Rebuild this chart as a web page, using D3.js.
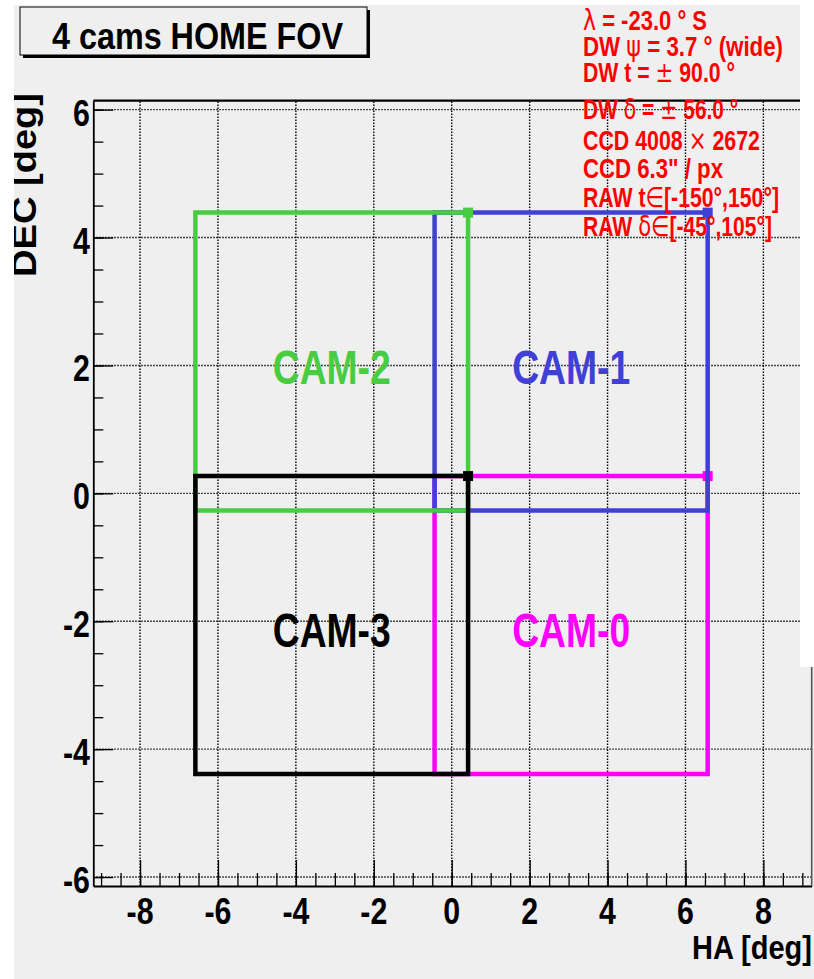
<!DOCTYPE html>
<html>
<head>
<meta charset="utf-8">
<script src="https://cdn.jsdelivr.net/npm/d3@7"></script>
<style>
  html, body { margin: 0; padding: 0; background: #ffffff; }
  svg { display: block; }
</style>
</head>
<body>
<script>
// ---------------- data ----------------
const cameras   = ["CAM-0", "CAM-1", "CAM-2", "CAM-3"];
const camColors = ["#ff00ff", "#4040d8", "#48cc40", "#000000"];
const haMin     = [-0.44, -0.44, -6.58, -6.58];
const haMax     = [ 6.57,  6.57,  0.42,  0.42];
const decMin    = [-4.39, -0.27, -0.27, -4.39];
const decMax    = [ 0.27,  4.39,  4.39,  0.27];

const xMajorTicks = [-8, -6, -4, -2, 0, 2, 4, 6, 8];
const yMajorTicks = [-6, -4, -2, 0, 2, 4, 6];
const xMinorTicks = d3.range(-18, 19).map(d => d / 2);
const yMinorTicks = d3.range(-12, 13).map(d => d / 2);

const titleText = "4 cams HOME FOV";
const xTitle = "HA [deg]";
const yTitle = "DEC [deg]";
const infoLines = [
  "λ = -23.0 ° S",
  "DW ψ = 3.7 ° (wide)",
  "DW t = ± 90.0 °",
  "DW δ = ± 56.0 °",
  "CCD 4008 × 2672",
  "CCD 6.3\" / px",
  "RAW t∈[-150°,150°]",
  "RAW δ∈[-45°,105°]"
];
const infoWidths    = [124, 200, 152, 155, 177, 140, 196, 189];
const infoBaselines = [30, 56, 82, 119, 150, 178, 207, 236];

// ---------------- layout ----------------
const W = 814, H = 979;
const FONT = "'Liberation Sans', Arial, Helvetica, sans-serif";
const BG = "#efefef";

const svg = d3.select("body").append("svg")
  .attr("width", W).attr("height", H)
  .attr("viewBox", `0 0 ${W} ${H}`);

svg.append("rect").attr("width", W).attr("height", H).attr("fill", BG);

const x = d3.scaleLinear().domain([-9.2, 9.24]).range([93.3, 811.7]);
const y = d3.scaleLinear().domain([-6.14, 6.14]).range([886, 100.7]);
const [x0, x1] = x.range();
const [y0, y1] = y.range(); // y0 bottom, y1 top

// grid (dotted)
const grid = svg.append("g").attr("stroke", "#000").attr("stroke-width", 1.4)
  .attr("stroke-dasharray", "1.4,1.6");
grid.selectAll(".gx").data(xMajorTicks).join("line")
  .attr("x1", d => x(d)).attr("x2", d => x(d))
  .attr("y1", y0).attr("y2", y1);
grid.selectAll(".gy").data(yMajorTicks).join("line")
  .attr("y1", d => y(d)).attr("y2", d => y(d))
  .attr("x1", x0).attr("x2", x1);

// camera rectangles
const camG = svg.append("g");
cameras.forEach((c, i) => {
  const pts = [
    [haMax[i], decMax[i]],
    [haMin[i], decMax[i]],
    [haMin[i], decMin[i]],
    [haMax[i], decMin[i]],
    [haMax[i], decMax[i]]
  ];
  camG.append("path")
    .attr("d", d3.line().x(p => x(p[0])).y(p => y(p[1]))(pts))
    .attr("fill", "none")
    .attr("stroke", camColors[i])
    .attr("stroke-width", 4.5)
    .attr("stroke-linejoin", "miter")
    .attr("stroke-linecap", "square");
  camG.append("rect")
    .attr("x", x(haMax[i]) - 5).attr("y", y(decMax[i]) - 5)
    .attr("width", 10).attr("height", 10)
    .attr("fill", camColors[i]);
});

// camera labels
cameras.forEach((c, i) => {
  svg.append("text")
    .attr("x", x((haMin[i] + haMax[i]) / 2))
    .attr("y", y((decMin[i] + decMax[i]) / 2))
    .attr("dy", "0.45em")
    .attr("text-anchor", "middle")
    .attr("font-family", FONT).attr("font-weight", "bold")
    .attr("font-size", 49)
    .attr("textLength", 118).attr("lengthAdjust", "spacingAndGlyphs")
    .attr("fill", camColors[i])
    .text(c);
});

// axes (ticks inside the frame, ROOT style)
const axX = svg.append("g").attr("transform", `translate(0,${y0})`);
axX.call(d3.axisBottom(x).tickValues(xMinorTicks).tickSize(-13).tickSizeOuter(0).tickFormat(""));
axX.append("g").call(d3.axisBottom(x).tickValues(xMajorTicks).tickSize(-26).tickSizeOuter(0).tickFormat(""))
  .select(".domain").remove();
const axY = svg.append("g").attr("transform", `translate(${x0},0)`);
axY.call(d3.axisLeft(y).tickValues(yMinorTicks).tickSize(-10).tickSizeOuter(0).tickFormat(""));
axY.append("g").call(d3.axisLeft(y).tickValues(yMajorTicks).tickSize(-20).tickSizeOuter(0).tickFormat(""))
  .select(".domain").remove();
svg.selectAll(".tick line").attr("stroke", "#000").attr("stroke-width", 1.3);
svg.selectAll(".domain").attr("stroke", "#000").attr("stroke-width", 1.8);

// top & right frame
svg.append("line").attr("x1", x0).attr("x2", x1).attr("y1", y1).attr("y2", y1)
  .attr("stroke", "#000").attr("stroke-width", 2.2);
svg.append("line").attr("x1", x1).attr("x2", x1).attr("y1", y1).attr("y2", y0)
  .attr("stroke", "#555").attr("stroke-width", 1.6);

// tick labels
svg.append("g").selectAll("text").data(xMajorTicks).join("text")
  .attr("transform", d => `translate(${x(d)},924) scale(0.82,1)`)
  .attr("text-anchor", "middle")
  .attr("font-family", FONT).attr("font-weight", "bold").attr("font-size", 37)
  .attr("fill", "#000")
  .text(d => String(d));
svg.append("g").selectAll("text").data(yMajorTicks).join("text")
  .attr("transform", d => `translate(90,${y(d) + 16}) scale(0.82,1)`)
  .attr("text-anchor", "end")
  .attr("font-family", FONT).attr("font-weight", "bold").attr("font-size", 37)
  .attr("fill", "#000")
  .text(d => String(d));

// axis titles
svg.append("text")
  .attr("x", 812).attr("y", 959)
  .attr("text-anchor", "end")
  .attr("font-family", FONT).attr("font-weight", "bold").attr("font-size", 34)
  .attr("textLength", 120).attr("lengthAdjust", "spacingAndGlyphs")
  .text(xTitle);
svg.append("text")
  .attr("transform", "translate(36,277) rotate(-90)")
  .attr("text-anchor", "start")
  .attr("font-family", FONT).attr("font-weight", "bold").attr("font-size", 35)
  .attr("textLength", 184).attr("lengthAdjust", "spacingAndGlyphs")
  .text(yTitle);

// white margins of the scanned picture
svg.append("rect").attr("x", 800).attr("y", 0).attr("width", 14).attr("height", 667).attr("fill", "#fff");
svg.append("rect").attr("x", 0).attr("y", 0).attr("width", 14).attr("height", H).attr("fill", "#fff");
svg.append("rect").attr("x", 0).attr("y", 0).attr("width", W).attr("height", 5).attr("fill", "#fff");

// title box with shadow
svg.append("rect").attr("x", 23).attr("y", 10).attr("width", 347).attr("height", 48).attr("fill", "#000");
svg.append("rect").attr("x", 20).attr("y", 7).attr("width", 347).attr("height", 48)
  .attr("fill", BG).attr("stroke", "#000").attr("stroke-width", 1);
svg.append("text")
  .attr("x", 197.5).attr("y", 49)
  .attr("text-anchor", "middle")
  .attr("font-family", FONT).attr("font-weight", "bold").attr("font-size", 37)
  .attr("textLength", 291).attr("lengthAdjust", "spacingAndGlyphs")
  .text(titleText);

// info text (red)
const symRe = /([λψδ±×∈])/;
infoLines.forEach((line, i) => {
  const t = svg.append("text")
    .attr("x", 583).attr("y", infoBaselines[i])
    .attr("font-family", FONT).attr("font-weight", "bold").attr("font-size", 28)
    .attr("fill", "#ff0000")
    .attr("textLength", infoWidths[i]).attr("lengthAdjust", "spacingAndGlyphs");
  line.split(symRe).filter(s => s.length).forEach(seg => {
    const ts = t.append("tspan").text(seg);
    if (symRe.test(seg)) ts.attr("font-weight", "normal").attr("font-family", "'DejaVu Sans', sans-serif");
  });
});
</script>
</body>
</html>
